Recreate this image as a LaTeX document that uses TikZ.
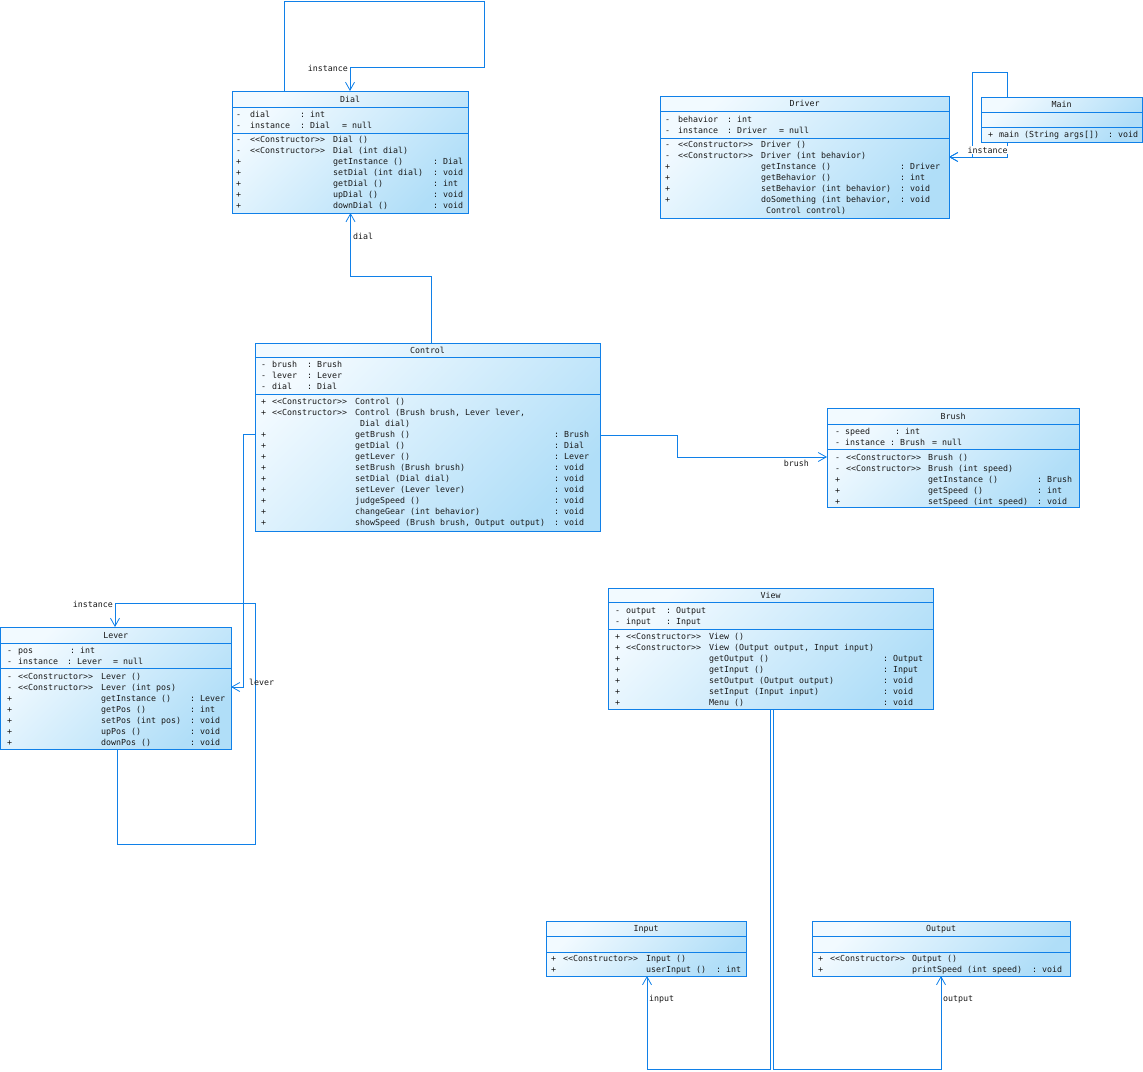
\documentclass[tikz,border=0pt]{standalone}
\usepackage{fontspec}
\setmonofont{DejaVu Sans Mono}
\usetikzlibrary{arrows.meta,calc}
\definecolor{uml}{RGB}{16,128,232}
\definecolor{fillA}{RGB}{242,250,255}
\definecolor{fillB}{RGB}{176,222,248}
\newlength\colA \newlength\colB \newlength\colC
\newcommand\setcols[3]{\setlength\colA{#1pt}\setlength\colB{#2pt}\setlength\colC{#3pt}}
\newcommand\mrow[4]{\makebox[\colA][l]{#1}\makebox[\colB][l]{#2}\makebox[\colC][l]{#3}#4}
\tikzset{
  cls/.style={draw=uml, line width=0.9pt, left color=fillA, right color=fillB, shading angle=45, inner sep=0pt, outer sep=0pt},
  sepline/.style={draw=uml, line width=0.9pt},
  txt/.style={font=\ttfamily\fontsize{8.3}{11}\selectfont, inner sep=0pt, text=black!90},
  lbl/.style={txt},
  assoc/.style={draw=uml, line width=0.9pt, -{Straight Barb[length=8pt,width=9pt,line width=0.8pt]}},
}
\newcommand\umlclass[8]{%
  \node[cls, anchor=north west, minimum width={#4-#2}, minimum height={#5-#3}] (#1) at (#2,#3) {};
  \draw[sepline] (#2,#6) -- (#4,#6);
  \draw[sepline] (#2,#7) -- (#4,#7);
  \node[txt, anchor=base] (#1-title) at ({(#2+#4)/2},{(#3+#6)/2+3}) {#8};
}
\newcommand\block[5]{%
  \node[txt, anchor=north west] (#1) at (#2,{#3-4.7}) {#4\begin{tabular}[t]{@{}l@{}}#5\end{tabular}};
}
\begin{document}
\begin{tikzpicture}[x=1pt,y=-1pt]
\useasboundingbox (0,0) rectangle (1143,1071);

% ---------------- Dial
\umlclass{dial}{232}{91}{468}{213}{107}{133}{Dial}
\block{dialA}{236}{114}{\setcols{14}{50}{42}}{%
\mrow{-}{dial}{: int}{}\\
\mrow{-}{instance}{: Dial}{= null}}
\block{dialO}{236}{139}{\setcols{14}{83}{100}}{%
\mrow{-}{<<Constructor>>}{Dial ()}{}\\
\mrow{-}{<<Constructor>>}{Dial (int dial)}{}\\
\mrow{+}{}{getInstance ()}{: Dial}\\
\mrow{+}{}{setDial (int dial)}{: void}\\
\mrow{+}{}{getDial ()}{: int}\\
\mrow{+}{}{upDial ()}{: void}\\
\mrow{+}{}{downDial ()}{: void}}

% ---------------- Driver
\umlclass{driver}{660}{96}{949}{218}{111}{138}{Driver}
\block{driverA}{665}{119}{\setcols{13}{49}{52}}{%
\mrow{-}{behavior}{: int}{}\\
\mrow{-}{instance}{: Driver}{= null}}
\block{driverO}{665}{144.5}{\setcols{13}{83}{139}}{%
\mrow{-}{<<Constructor>>}{Driver ()}{}\\
\mrow{-}{<<Constructor>>}{Driver (int behavior)}{}\\
\mrow{+}{}{getInstance ()}{: Driver}\\
\mrow{+}{}{getBehavior ()}{: int}\\
\mrow{+}{}{setBehavior (int behavior)}{: void}\\
\mrow{+}{}{doSomething (int behavior,}{: void}\\
\mrow{}{}{\ Control control)}{}}

% ---------------- Main
\umlclass{main}{981}{97}{1142}{142}{112}{127}{Main}
\block{mainO}{988}{134}{\setcols{11}{0}{109}}{%
\mrow{+}{}{main (String args[])}{: void}}

% ---------------- Control
\umlclass{control}{255}{343}{600}{531}{357}{394}{Control}
\block{controlA}{261}{364.7}{\setcols{11}{35}{0}}{%
\mrow{-}{brush}{: Brush}{}\\
\mrow{-}{lever}{: Lever}{}\\
\mrow{-}{dial}{: Dial}{}}
\block{controlO}{261}{401.7}{\setcols{11}{83}{199}}{%
\mrow{+}{<<Constructor>>}{Control ()}{}\\
\mrow{+}{<<Constructor>>}{Control (Brush brush, Lever lever,}{}\\
\mrow{}{}{\ Dial dial)}{}\\
\mrow{+}{}{getBrush ()}{: Brush}\\
\mrow{+}{}{getDial ()}{: Dial}\\
\mrow{+}{}{getLever ()}{: Lever}\\
\mrow{+}{}{setBrush (Brush brush)}{: void}\\
\mrow{+}{}{setDial (Dial dial)}{: void}\\
\mrow{+}{}{setLever (Lever lever)}{: void}\\
\mrow{+}{}{judgeSpeed ()}{: void}\\
\mrow{+}{}{changeGear (int behavior)}{: void}\\
\mrow{+}{}{showSpeed (Brush brush, Output output)}{: void}}

% ---------------- Brush
\umlclass{brush}{827}{408}{1079}{507}{424}{449}{Brush}
\block{brushA}{835}{431}{\setcols{10}{45}{42}}{%
\mrow{-}{speed}{\hspace{5pt}: int}{}\\
\mrow{-}{instance}{: Brush}{= null}}
\block{brushO}{835}{457}{\setcols{11}{82}{109}}{%
\mrow{-}{<<Constructor>>}{Brush ()}{}\\
\mrow{-}{<<Constructor>>}{Brush (int speed)}{}\\
\mrow{+}{}{getInstance ()}{: Brush}\\
\mrow{+}{}{getSpeed ()}{: int}\\
\mrow{+}{}{setSpeed (int speed)}{: void}}

% ---------------- Lever
\umlclass{lever}{0.5}{627}{231}{749}{643}{668}{Lever}
\block{leverA}{7}{650}{\setcols{11}{49}{46}}{%
\mrow{-}{pos}{\hspace{3pt}: int}{}\\
\mrow{-}{instance}{: Lever}{= null}}
\block{leverO}{7}{676}{\setcols{11}{83}{89}}{%
\mrow{-}{<<Constructor>>}{Lever ()}{}\\
\mrow{-}{<<Constructor>>}{Lever (int pos)}{}\\
\mrow{+}{}{getInstance ()}{: Lever}\\
\mrow{+}{}{getPos ()}{: int}\\
\mrow{+}{}{setPos (int pos)}{: void}\\
\mrow{+}{}{upPos ()}{: void}\\
\mrow{+}{}{downPos ()}{: void}}

% ---------------- View
\umlclass{view}{608}{588}{933}{709}{602}{629}{View}
\block{viewA}{615}{610}{\setcols{11}{40}{0}}{%
\mrow{-}{output}{: Output}{}\\
\mrow{-}{input}{: Input}{}}
\block{viewO}{615}{636.7}{\setcols{11}{83}{174}}{%
\mrow{+}{<<Constructor>>}{View ()}{}\\
\mrow{+}{<<Constructor>>}{View (Output output, Input input)}{}\\
\mrow{+}{}{getOutput ()}{: Output}\\
\mrow{+}{}{getInput ()}{: Input}\\
\mrow{+}{}{setOutput (Output output)}{: void}\\
\mrow{+}{}{setInput (Input input)}{: void}\\
\mrow{+}{}{Menu ()}{: void}}

% ---------------- Input
\umlclass{input}{546}{921}{746}{976}{936}{952}{Input}
\block{inputO}{551}{958}{\setcols{12}{83}{70}}{%
\mrow{+}{<<Constructor>>}{Input ()}{}\\
\mrow{+}{}{userInput ()}{: int}}

% ---------------- Output
\umlclass{output}{812}{921}{1070}{976}{936}{952}{Output}
\block{outputO}{818}{958}{\setcols{12}{82}{120}}{%
\mrow{+}{<<Constructor>>}{Output ()}{}\\
\mrow{+}{}{printSpeed (int speed)}{: void}}

% ---------------- connectors
\draw[assoc] ([xshift=52pt]dial.north west) -- (284,1) -- (484,1) -- (484,67) -- (350,67) -- ([xshift=118pt]dial.north west);
\draw[assoc] ([xshift=176pt]control.north west) -- (431,276) -- (350.5,276) -- ([xshift=118.5pt]dial.south west);
\draw[assoc] ([yshift=-92pt]control.north east) -- (677,435) -- (677,457) -- ([yshift=-49pt]brush.north west);
\draw[assoc] ([yshift=-91pt]control.north west) -- (243,434) -- (243,687) -- ([yshift=-60pt]lever.north east);
\draw[assoc] ([xshift=116.5pt]lever.south west) -- (117,844) -- (255,844) -- (255,603) -- (115,603) -- ([xshift=114.5pt]lever.north west);
\draw[assoc] ([xshift=26pt]main.north west) -- (1007,72) -- (972,72) -- (972,157) -- ([yshift=-61pt]driver.north east);
\draw[assoc] ([xshift=26pt]main.south west) -- (1007,157) -- ([yshift=-61pt]driver.north east);
\draw[assoc] ([xshift=162pt]view.south west) -- (770,1069) -- (647,1069) -- ([xshift=101pt]input.south west);
\draw[assoc] ([xshift=165pt]view.south west) -- (773,1069) -- (941,1069) -- ([xshift=129pt]output.south west);

% ---------------- labels
\node[lbl, anchor=east] (l1) at (348,68) {instance};
\node[lbl, anchor=west] (l2) at (353,236) {dial};
\node[lbl, anchor=east] (l3) at (809,463) {brush};
\node[lbl, anchor=west] (l4) at (249,682) {lever};
\node[lbl, anchor=east] (l5) at (113,604) {instance};
\node[lbl, anchor=center, fill=white, inner sep=0.5pt] (l6) at (987.5,150) {instance};
\node[lbl, anchor=west] (l7) at (649,999) {input};
\node[lbl, anchor=west] (l8) at (943,999) {output};
\end{tikzpicture}
\end{document}
